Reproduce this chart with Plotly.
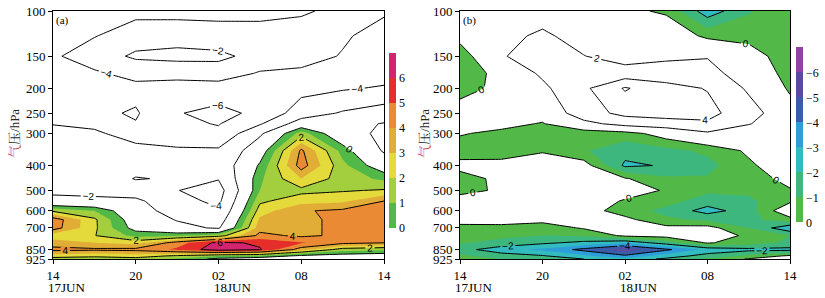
import numpy as np
import plotly.graph_objects as go

# ---------------- data ----------------
hours = [0, 3, 6, 9, 12, 15, 18, 21, 24]          # hours after 17 JUN 14
levels = [100, 125, 150, 175, 200, 250, 275, 300, 350, 400, 450,
          500, 550, 600, 650, 700, 750, 800, 850, 900, 925]

x_tick_vals = [0, 6, 12, 18, 24]
x_tick_text = ['14', '20', '02', '08', '14']
date_labels = ['17JUN', '18JUN']
date_hours = [0, 12]
y_tick_vals = [100, 150, 200, 250, 300, 400, 500, 600, 700, 850, 925]

# panel (a): one column per time, values top (100 hPa) -> bottom (925 hPa)
a_h00 = [-5.0, -4.7, -4.3, -4.5, -4.8, -4.4, -4.05, -3.6, -3.2, -3.0, -2.7, -2.3, -1.6, 1.8, 4.6, 4.5, 2.4, 3.5, 4.3, 2.5, 1.5]
a_h03 = [-4.7, -4.1, -2.9, -4.3, -4.7, -4.4, -4.2, -3.85, -3.3, -3.0, -2.8, -2.4, -1.7, 1.0, 2.2, 2.2, 2.05, 3.0, 4.2, 2.2, 1.5]
a_h06 = [-4.6, -2.9, -1.7, -3.3, -4.6, -3.8, -4.1, -4.4, -3.7, -3.3, -4.1, -3.0, -1.6, -1.2, -0.9, -0.5, 0.7, 2.6, 4.3, 2.5, 1.6]
a_h09 = [-4.7, -2.7, -1.5, -3.2, -5.0, -5.9, -5.6, -4.8, -3.8, -3.5, -3.8, -3.95, -3.4, -2.8, -2.1, -1.5, 0.8, 4.5, 5.2, 1.8, 0.8]
a_h12 = [-4.7, -3.0, -1.6, -2.9, -5.0, -6.5, -6.1, -5.6, -3.7, -3.3, -3.9, -4.8, -4.4, -3.8, -3.0, -2.2, 1.5, 6.3, 6.6, 1.0, -0.3]
a_h15 = [-4.5, -3.3, -2.6, -4.2, -5.2, -5.6, -4.2, -2.3, -0.8, 0.2, 0.8, 1.0, 1.8, 2.5, 3.2, 3.6, 4.3, 5.8, 6.1, 0.8, -0.8]
a_h18 = [-4.2, -3.3, -3.4, -4.3, -4.6, -3.0, -1.0, 1.5, 4.2, 4.5, 3.0, 1.7, 2.6, 3.9, 3.6, 3.5, 3.8, 5.1, 3.5, -0.3, -1.2]
a_h21 = [-3.6, -3.8, -4.1, -4.6, -4.2, -1.8, -1.4, -1.2, 0.6, 1.3, 1.5, 1.9, 2.8, 4.2, 4.4, 4.5, 4.2, 4.3, 1.5, -0.6, -1.5]
a_h24 = [-3.8, -4.6, -5.0, -4.8, -3.8, -1.0, -2.1, -2.4, -2.2, -0.9, 0.8, 2.1, 4.0, 4.5, 4.6, 4.6, 4.2, 4.0, 1.2, -0.8, -1.5]

# panel (b)
b_h00 = [1.0, 0.5, -0.8, -0.9, -0.7, 0.9, 0.5, 0.1, -0.6, 0.4, -0.5, -0.4, 0.6, 0.8, 0.4, -0.3, -0.7, -0.9, -1.6, -0.8, -0.6]
b_h03 = [1.2, 1.5, 1.9, 0.5, 0.5, 1.0, 0.4, -0.3, -0.7, 0.5, 0.3, 0.2, 0.8, 0.9, 0.6, -0.4, -0.8, -1.3, -2.6, -1.5, -1.0]
b_h06 = [1.2, 2.3, 2.6, 2.3, 1.6, 0.6, -0.1, -0.6, -0.1, 0.6, 0.8, 0.9, 0.7, 0.7, 0.3, -0.5, -1.0, -1.8, -3.2, -1.9, -1.2]
b_h09 = [0.8, 1.3, 2.05, 2.8, 3.6, 3.0, 1.5, -0.8, -0.9, 0.5, 0.6, 0.7, 0.6, 0.5, 0.5, 0.1, -0.8, -2.3, -4.3, -2.8, -2.0]
b_h12 = [0.3, 0.8, 1.2, 2.8, 6.2, 4.6, 2.6, -0.5, -1.6, -2.2, 0.1, 0.5, -0.1, -0.5, 0.3, 0.5, 0.2, -2.8, -5.6, -3.8, -2.6]
b_h15 = [-0.2, 1.0, 1.6, 3.0, 4.6, 5.0, 3.0, 0.6, -1.3, -1.9, -0.8, -0.1, -0.6, -1.3, -0.8, 0.3, 0.4, -1.5, -4.2, -2.5, -1.8]
b_h18 = [-2.6, -0.3, 1.9, 2.6, 3.9, 4.6, 3.7, 1.7, -0.8, -1.3, -0.9, -0.8, -1.5, -2.4, -1.2, 0.4, 0.3, 0.1, -2.7, -1.6, -0.9]
b_h21 = [-1.1, -0.4, 0.6, 1.1, 1.7, 2.8, 2.1, 0.9, 0.2, -0.2, -0.6, -0.8, -1.2, -1.5, -1.3, -1.0, -0.1, -0.5, -2.3, -0.8, 0.1]
b_h24 = [-0.3, -0.8, -0.7, -0.5, -0.2, 0.6, 0.7, 0.8, 0.9, 0.8, 0.4, -0.1, -0.2, 1.0, -0.4, -2.8, -1.0, -1.2, -2.3, 0.2, 0.8]

cbar_a_text = ['0', '1', '2', '3', '4', '5', '6']
cbar_b_text = ['0', '\u22121', '\u22122', '\u22123', '\u22124', '\u22125', '\u22126']

# ---------------- styles ----------------
A_COLORS = ['#ffffff', '#52b848', '#a3cf3f', '#e5da3c', '#e1ad36', '#eb8a35', '#e52d2a', '#d3256f']
B_COLORS = ['#8e44a0', '#5c4aa0', '#3b5ca8', '#2d9ed8', '#33bcc0', '#3db77d', '#52b848', '#ffffff']

W, H = 825, 298
SERIF = 'Liberation Serif, Times New Roman, serif'


def px_x(v):
    return v / W


def px_y(v):
    return 1 - v / H


def discrete(colors):
    n = len(colors)
    out = []
    for i, c in enumerate(colors):
        out.append([i / n, c])
        out.append([(i + 1) / n, c])
    return out


za = np.array([a_h00, a_h03, a_h06, a_h09, a_h12, a_h15, a_h18, a_h21, a_h24]).T
zb = np.array([b_h00, b_h03, b_h06, b_h09, b_h12, b_h15, b_h18, b_h21, b_h24]).T

a_fill_cs = [[k / 7, A_COLORS[k]] for k in range(8)]
b_fill_cs = [[k / 7, B_COLORS[k]] for k in range(8)]

fig = go.Figure()

panels = [
    (za, 'x', 'y', dict(start=0, end=6, size=1), a_fill_cs),
    (zb, 'x2', 'y2', dict(start=-6, end=0, size=1), b_fill_cs),
]
for z, xa, ya, lev, cs in panels:
    fig.add_trace(go.Contour(
        x=hours, y=levels, z=z, xaxis=xa, yaxis=ya, autocontour=False,
        contours=dict(start=lev['start'], end=lev['end'], size=lev['size'],
                      coloring='fill', showlines=False),
        colorscale=cs, showscale=False, line=dict(width=0, smoothing=0),
        hoverinfo='skip'))
    fig.add_trace(go.Contour(
        x=hours, y=levels, z=z, xaxis=xa, yaxis=ya, autocontour=False,
        contours=dict(start=-6, end=6, size=2, coloring='none', showlabels=True,
                      labelfont=dict(family='Liberation Sans, Arial', size=10, color='black')),
        line=dict(color='black', width=1, smoothing=0), showscale=False,
        hoverinfo='skip'))

# colorbars via hidden marker traces
cb_specs = [
    ('x', 'y', discrete(A_COLORS[1:]), cbar_a_text, 389, 140.5),
    ('x2', 'y2', discrete(B_COLORS[6::-1]), cbar_b_text, 796, 135),
]
for xa, ya, cs, txt, xl, yc in cb_specs:
    fig.add_trace(go.Scatter(
        x=[-50], y=[500], xaxis=xa, yaxis=ya, mode='markers', hoverinfo='skip',
        showlegend=False,
        marker=dict(size=2, color=[0], cmin=0, cmax=7, colorscale=cs, showscale=True,
                    colorbar=dict(x=px_x(xl), xanchor='left', y=px_y(yc), yanchor='middle',
                                  lenmode='pixels', len=175, thickness=7,
                                  thicknessmode='pixels', outlinewidth=0, xpad=0, ypad=0,
                                  tickvals=list(range(7)), ticktext=txt, ticks='',
                                  tickfont=dict(family=SERIF, size=12, color='black')))))

axis_common = dict(showline=True, mirror=True, linecolor='black', linewidth=1,
                   ticks='outside', ticklen=4, tickcolor='black', showgrid=False,
                   zeroline=False, automargin=False,
                   tickfont=dict(family=SERIF, size=13, color='black'))

layout = dict(width=W, height=H, margin=dict(l=0, r=0, t=0, b=0),
              paper_bgcolor='white', plot_bgcolor='white', showlegend=False)

for i, (x0, x1) in enumerate([(53, 384), (460, 790)]):
    sfx = '' if i == 0 else '2'
    layout['xaxis' + sfx] = dict(domain=[px_x(x0), px_x(x1)], range=[0, 24],
                                 tickvals=x_tick_vals, ticktext=x_tick_text,
                                 anchor='y' + sfx, **axis_common)
    layout['yaxis' + sfx] = dict(domain=[px_y(259), px_y(11)], type='log',
                                 range=[np.log10(925), np.log10(100)],
                                 tickvals=y_tick_vals, ticktext=[str(v) for v in y_tick_vals],
                                 anchor='x' + sfx, **axis_common)

fig.update_layout(**layout)

annotations = []
for sfx, lab, tx in [('', '(a)', 54), ('2', '(b)', 461)]:
    annotations.append(dict(text=lab, x=px_x(tx), y=px_y(20), xref='paper', yref='paper',
                            xanchor='left', yanchor='middle', showarrow=False,
                            font=dict(family=SERIF, size=11, color='black')))
    for d, hh in zip(date_labels, date_hours):
        annotations.append(dict(text=d, x=hh, xref='x' + sfx, y=px_y(287), yref='paper',
                                xanchor='left', yanchor='middle', xshift=-7, showarrow=False,
                                font=dict(family=SERIF, size=13, color='black')))
for tx in [14, 424]:
    annotations.append(dict(text='<span style="color:#c83c3c">气</span>压/hPa',
                            x=px_x(tx), y=px_y(134), xref='paper', yref='paper',
                            xanchor='center', yanchor='middle', textangle=-90, showarrow=False,
                            font=dict(family='Liberation Serif, Noto Serif CJK SC, Noto Sans CJK SC',
                                      size=13, color='#222222')))
fig.update_layout(annotations=annotations)

fig.write_html('out.html', config={'displayModeBar': False},
               post_script="document.body.style.margin='0';document.body.style.padding='0';")
